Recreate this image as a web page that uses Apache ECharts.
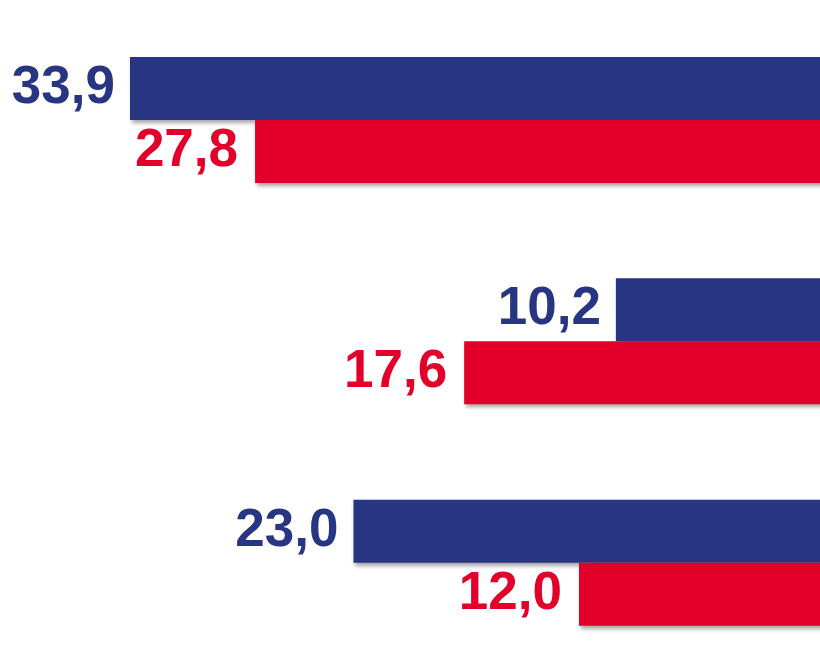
<!DOCTYPE html>
<html>
<head>
<meta charset="utf-8">
<script src="https://cdn.jsdelivr.net/npm/echarts@6/dist/echarts.min.js"></script>
<style>
html,body{margin:0;padding:0;background:#fff;}
#chart{width:820px;height:669px;}
</style>
</head>
<body>
<div id="chart"></div>
<script>
const categories = ['A', 'B', 'C'];
const blueValues = [33.9, 10.2, 23.0];
const redValues = [27.8, 17.6, 12.0];

const fmt = p => p.value.toFixed(1).replace('.', ',');
const shadow = {shadowColor: 'rgba(0,0,0,0.35)', shadowBlur: 4, shadowOffsetX: 2, shadowOffsetY: 3};

const chart = echarts.init(document.getElementById('chart'));
chart.setOption({
  animation: false,
  grid: {left: 0, right: 0, top: 120, height: 442.7, containLabel: false},
  xAxis: {type: 'value', min: 0.244, max: 40.24, inverse: true, show: false},
  yAxis: {type: 'category', data: categories, inverse: true, boundaryGap: false, show: false},
  series: [
    {
      type: 'bar', data: blueValues, barWidth: 63, barGap: '0%', clip: false,
      itemStyle: Object.assign({color: '#283582'}, shadow),
      label: {show: true, position: 'left', distance: 15, formatter: fmt,
        color: '#283582', fontFamily: 'Liberation Sans', fontWeight: 'bold', fontSize: 53}
    },
    {
      type: 'bar', data: redValues, barWidth: 63, barGap: '0%', clip: false,
      itemStyle: Object.assign({color: '#e2002b'}, shadow),
      label: {show: true, position: 'left', distance: 17, formatter: fmt,
        color: '#e2002b', fontFamily: 'Liberation Sans', fontWeight: 'bold', fontSize: 53}
    }
  ]
});
</script>
</body>
</html>
